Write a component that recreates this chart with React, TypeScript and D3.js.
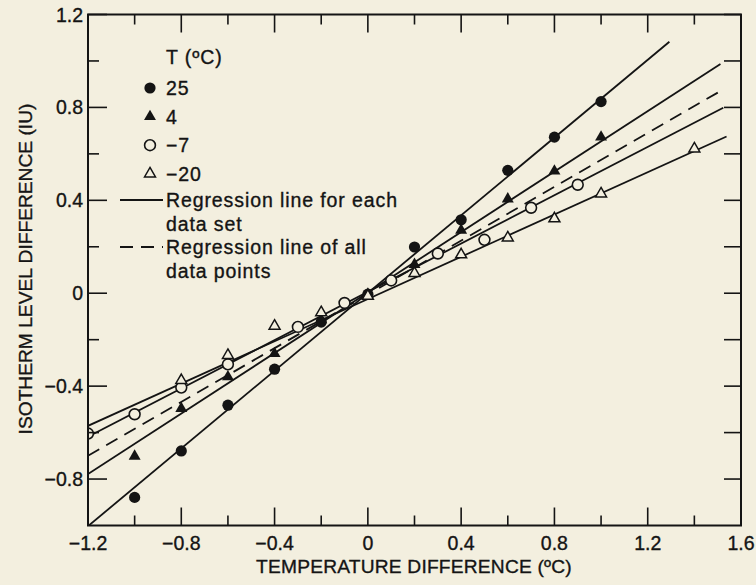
import React from "react";
import * as d3 from "d3";

// ---- data ----
const xTickValues = [-1.2, -0.8, -0.4, 0, 0.4, 0.8, 1.2, 1.6];
const yTickValues = [-0.8, -0.4, 0, 0.4, 0.8, 1.2];
const xMinorTicks = [-1.0, -0.6, -0.2, 0.2, 0.6, 1.0, 1.4];
const yMinorTicks = [-0.6, -0.2, 0.2, 0.6, 1.0];

const seriesNames = ["25", "4", "-7", "-20"];
const seriesLabels = ["25", "4", "\u22127", "\u221220"];
const seriesMarkers = ["filledCircle", "filledTriangle", "openCircle", "openTriangle"];

const x25 = [-1.0, -0.8, -0.6, -0.4, -0.2, 0.0, 0.2, 0.4, 0.6, 0.8, 1.0];
const y25 = [-0.879, -0.679, -0.482, -0.327, -0.124, -0.004, 0.199, 0.316, 0.529, 0.672, 0.825];
const x4 = [-1.0, -0.8, -0.6, -0.4, -0.2, 0.0, 0.2, 0.4, 0.6, 0.8, 1.0];
const y4 = [-0.702, -0.496, -0.36, -0.26, -0.114, -0.004, 0.124, 0.271, 0.406, 0.526, 0.672];
const xM7 = [-1.2, -1.0, -0.8, -0.6, -0.3, -0.1, 0.1, 0.3, 0.5, 0.7, 0.9];
const yM7 = [-0.604, -0.521, -0.406, -0.306, -0.145, -0.042, 0.055, 0.171, 0.23, 0.368, 0.467];
const xM20 = [-0.8, -0.6, -0.4, -0.2, 0.0, 0.2, 0.4, 0.6, 0.8, 1.0, 1.4];
const yM20 = [-0.375, -0.267, -0.141, -0.083, -0.012, 0.086, 0.166, 0.239, 0.321, 0.428, 0.622];

// regression lines (slope, intercept, x extent)
const lineSlopes = [0.8365, 0.651, 0.52, 0.455];
const lineIntercepts = [0.001, 0.003, 0.006, -0.025];
const lineXEnd = [1.293, 1.512, 1.524, 1.538];
const allSlope = 0.579;
const allIntercept = -0.005;
const allXEnd = 1.521;
const lineXStart = -1.2;

const xTitle = "TEMPERATURE DIFFERENCE (\u00baC)";
const yTitle = "ISOTHERM LEVEL DIFFERENCE (IU)";
const legendTitle = "T (\u00baC)";
const legendSolid = ["Regression line for each", "data set"];
const legendDashed = ["Regression line of all", "data points"];

const W = 756;
const H = 585;
const BG = "#f3efdf";
const INK = "#141414";
const FONT = "'Liberation Sans', Arial, Helvetica, sans-serif";

const xs = [x25, x4, xM7, xM20];
const ys = [y25, y4, yM7, yM20];

function Marker({ kind, cx, cy }: { kind: string; cx: number; cy: number }) {
  if (kind === "filledCircle") return <circle cx={cx} cy={cy} r={5.6} fill={INK} />;
  if (kind === "openCircle")
    return <circle cx={cx} cy={cy} r={5.4} fill={BG} stroke={INK} strokeWidth={1.6} />;
  const tri = d3.symbol().type(d3.symbolTriangle);
  if (kind === "filledTriangle")
    return <path d={tri.size(62)() as string} transform={`translate(${cx},${cy})`} fill={INK} />;
  return (
    <path
      d={tri.size(52)() as string}
      transform={`translate(${cx},${cy})`}
      fill={BG}
      stroke={INK}
      strokeWidth={1.5}
    />
  );
}

export default function App() {
  const x = d3.scaleLinear().domain([-1.2, 1.6]).range([88, 741]);
  const y = d3.scaleLinear().domain([-1.0, 1.2]).range([525.5, 14.5]);
  const [x0, x1] = x.range();
  const [yb, yt] = y.range();

  const lineGen = d3
    .line<[number, number]>()
    .x((d) => x(d[0]))
    .y((d) => y(d[1]));

  const fitted = lineSlopes.map((m, i) => {
    const b = lineIntercepts[i];
    return lineGen([
      [lineXStart, m * lineXStart + b],
      [lineXEnd[i], m * lineXEnd[i] + b],
    ]) as string;
  });
  const allLine = lineGen([
    [lineXStart, allSlope * lineXStart + allIntercept],
    [allXEnd, allSlope * allXEnd + allIntercept],
  ]) as string;

  const fmt = (v: number) => (v === 0 ? "0" : d3.format(".1f")(v).replace("-", "\u2212"));

  const legX = 150;
  const legTextX = 166;
  const textStroke = { stroke: INK, strokeWidth: 0.35 };

  return (
    <div style={{ position: "fixed", left: 0, top: 0 }}>
      <svg width={W} height={H} style={{ display: "block", fontFamily: FONT }}>
        <rect x={0} y={0} width={W} height={H} fill={BG} />
        <defs>
          <clipPath id="plot">
            <rect x={x0} y={yt} width={x1 - x0} height={yb - yt} />
          </clipPath>
        </defs>

        {/* regression lines */}
        <g clipPath="url(#plot)" fill="none" stroke={INK} strokeWidth={1.8}>
          {fitted.map((d, i) => (
            <path key={i} d={d} />
          ))}
          <path d={allLine} strokeDasharray="13,8" />
        </g>

        {/* data points */}
        <g clipPath="url(#plot)">
          {seriesNames.map((s, si) =>
            xs[si].map((xv, j) => (
              <Marker key={s + j} kind={seriesMarkers[si]} cx={x(xv)} cy={y(ys[si][j])} />
            ))
          )}
        </g>

        {/* frame */}
        <rect x={x0} y={yt} width={x1 - x0} height={yb - yt} fill="none" stroke={INK} strokeWidth={2} />

        {/* ticks (inward) */}
        <g stroke={INK} strokeWidth={1.6}>
          {xTickValues.map((v) => (
            <g key={"xt" + v}>
              <line x1={x(v)} x2={x(v)} y1={yb} y2={yb - 18} />
              <line x1={x(v)} x2={x(v)} y1={yt} y2={yt + 18} />
            </g>
          ))}
          {xMinorTicks.map((v) => (
            <g key={"xm" + v}>
              <line x1={x(v)} x2={x(v)} y1={yb} y2={yb - 10} />
              <line x1={x(v)} x2={x(v)} y1={yt} y2={yt + 10} />
            </g>
          ))}
          {yTickValues.map((v) => (
            <g key={"yt" + v}>
              <line x1={x0} x2={x0 + 19} y1={y(v)} y2={y(v)} />
              <line x1={x1} x2={x1 - 17} y1={y(v)} y2={y(v)} />
            </g>
          ))}
          {yMinorTicks.map((v) => (
            <g key={"ym" + v}>
              <line x1={x0} x2={x0 + 11} y1={y(v)} y2={y(v)} />
              <line x1={x1} x2={x1 - 17} y1={y(v)} y2={y(v)} />
            </g>
          ))}
        </g>

        {/* tick labels */}
        <g fill={INK} fontSize={19.5} {...textStroke}>
          {xTickValues.map((v) => (
            <text key={"xl" + v} x={x(v)} y={550} textAnchor="middle">
              {fmt(v)}
            </text>
          ))}
          {yTickValues.map((v) => (
            <text key={"yl" + v} x={83} y={y(v) + 7} textAnchor="end">
              {fmt(v)}
            </text>
          ))}
        </g>

        {/* axis titles */}
        <g fill={INK} fontSize={19.2} {...textStroke}>
          <text x={414} y={573} textAnchor="middle" letterSpacing={0.2}>
            {xTitle}
          </text>
          <text transform={`translate(32,${269}) rotate(-90)`} textAnchor="middle">
            {yTitle}
          </text>
        </g>

        {/* legend */}
        <g fill={INK} fontSize={19.5} letterSpacing={0.9} {...textStroke}>
          <text x={legTextX} y={64}>
            {legendTitle}
          </text>
          {seriesLabels.map((lab, i) => (
            <text key={"leg" + i} x={legTextX} y={88 + i * 28.6 + 7}>
              {lab}
            </text>
          ))}
          <text x={legTextX} y={207}>
            {legendSolid[0]}
          </text>
          <text x={legTextX} y={231}>
            {legendSolid[1]}
          </text>
          <text x={legTextX} y={254}>
            {legendDashed[0]}
          </text>
          <text x={legTextX} y={278}>
            {legendDashed[1]}
          </text>
        </g>
        <g>
          {seriesLabels.map((lab, i) => (
            <Marker key={"lm" + i} kind={seriesMarkers[i]} cx={legX} cy={88 + i * 28.6} />
          ))}
          <line x1={120} x2={163} y1={200} y2={200} stroke={INK} strokeWidth={1.8} />
          <line x1={120} x2={163} y1={247} y2={247} stroke={INK} strokeWidth={1.8} strokeDasharray="13,8" />
        </g>
      </svg>
    </div>
  );
}
